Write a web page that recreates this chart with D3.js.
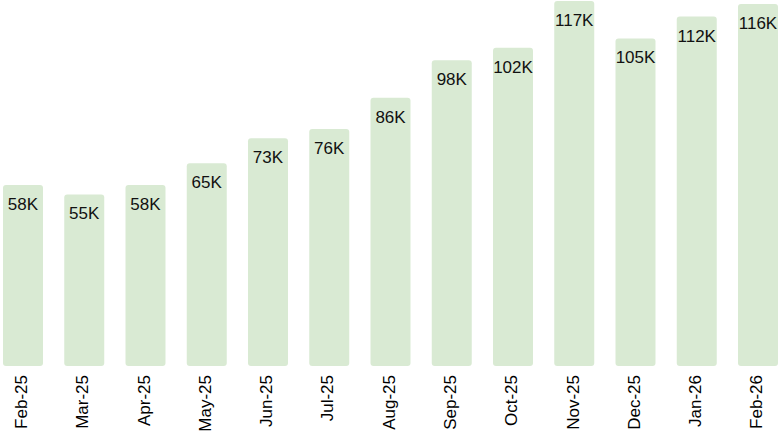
<!DOCTYPE html>
<html>
<head>
<meta charset="utf-8">
<script src="https://cdn.jsdelivr.net/npm/d3@7"></script>
<style>
  body { margin: 0; background: #fff; }
  svg { display: block; }
</style>
</head>
<body>
<div id="chart"></div>
<script>
// Dades
const months = ["Feb-25", "Mar-25", "Apr-25", "May-25", "Jun-25", "Jul-25", "Aug-25",
                "Sep-25", "Oct-25", "Nov-25", "Dec-25", "Jan-26", "Feb-26"];
const values = [58, 55, 58, 65, 73, 76, 86, 98, 102, 117, 105, 112, 116];
const valueLabels = ["58K", "55K", "58K", "65K", "73K", "76K", "86K",
                     "98K", "102K", "117K", "105K", "112K", "116K"];

const width = 778;
const height = 432;
const base = 366;

const svg = d3.select("#chart")
    .append("svg")
    .attr("width", width)
    .attr("height", height);

const x = d3.scaleBand()
    .domain(months)
    .range([3, 778])
    .paddingInner(0.347)
    .paddingOuter(0);

const y = d3.scaleLinear()
    .domain([0, 117])
    .range([base, 1]);

const data = months.map((m, i) => ({ month: m, value: values[i], label: valueLabels[i] }));

// Barres
svg.selectAll("rect.bar")
    .data(data)
    .enter()
    .append("rect")
    .attr("class", "bar")
    .attr("x", d => x(d.month))
    .attr("y", d => y(d.value))
    .attr("width", x.bandwidth())
    .attr("height", d => base - y(d.value))
    .attr("rx", 3)
    .style("fill", "#d9ead3");

// Etiquetes de valor
svg.selectAll("text.val")
    .data(data)
    .enter()
    .append("text")
    .attr("class", "val")
    .attr("x", d => x(d.month) + x.bandwidth() / 2)
    .attr("y", d => y(d.value) + 25)
    .style("text-anchor", "middle")
    .style("font-family", "'Liberation Sans', Arial, sans-serif")
    .style("font-size", "17px")
    .style("fill", "#111")
    .text(d => d.label);

// Eix x
const xAxis = svg.append("g")
    .attr("transform", `translate(0, ${base})`)
    .call(d3.axisBottom(x).tickSize(0).tickPadding(0));

xAxis.select(".domain").remove();

xAxis.selectAll("text")
    .attr("transform", "rotate(-90)")
    .attr("x", -9)
    .attr("y", 0)
    .attr("dy", "0.25em")
    .style("text-anchor", "end")
    .style("font-family", "'Liberation Sans', Arial, sans-serif")
    .style("font-size", "17px")
    .style("fill", "#000");
</script>
</body>
</html>
